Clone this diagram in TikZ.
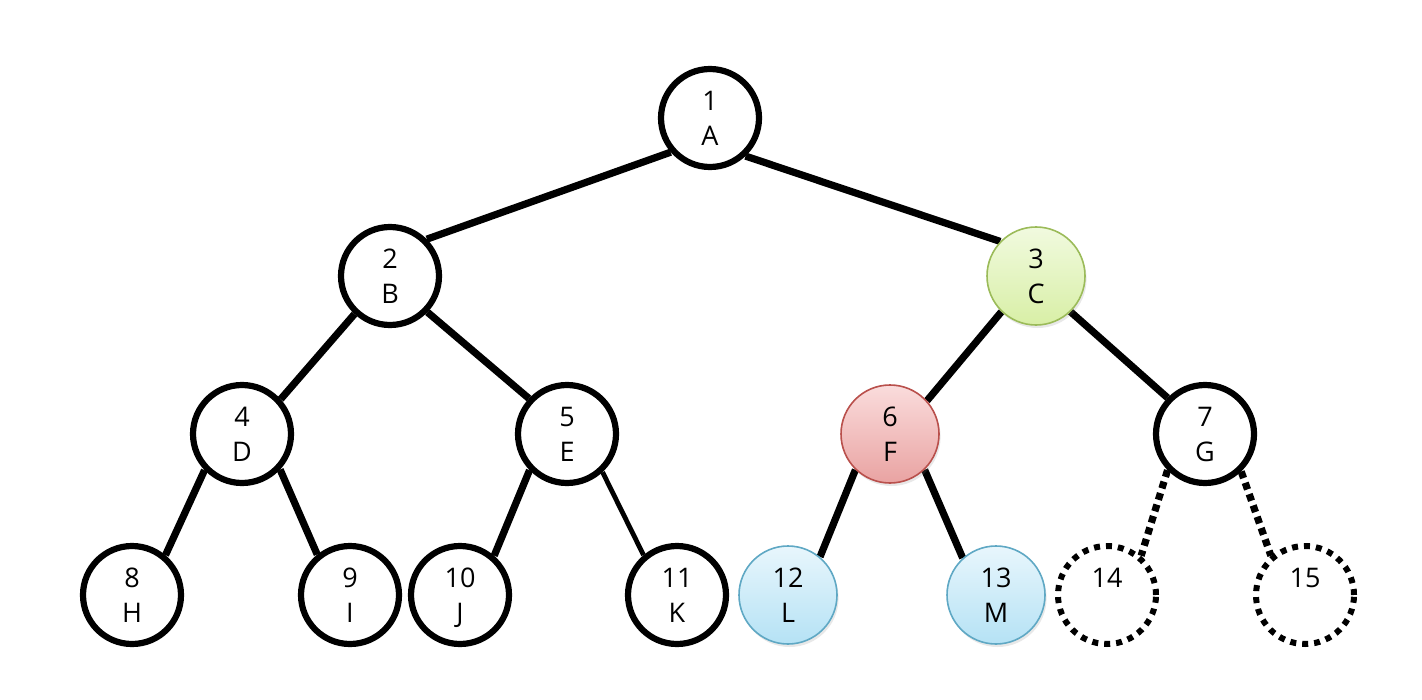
\documentclass[tikz,border=0pt]{standalone}
\usepackage{fontspec}
\setmainfont{Open Sans}
\usetikzlibrary{backgrounds,shadows}
\definecolor{greenfillT}{HTML}{F1FADF}
\definecolor{greenfillB}{HTML}{D8EFA6}
\definecolor{greenline}{HTML}{9BBB59}
\definecolor{redfillT}{HTML}{FADCDC}
\definecolor{redfillB}{HTML}{E9A3A2}
\definecolor{redline}{HTML}{B9504C}
\definecolor{bluefillT}{HTML}{E8F6FC}
\definecolor{bluefillB}{HTML}{B5E2F5}
\definecolor{blueline}{HTML}{5FA8C4}
\tikzset{
  tnode/.style={circle, minimum size=49pt, inner sep=0pt, line width=3.1pt, draw=black, fill=white,
    align=center, font=\fontsize{13.5}{17.5}\selectfont,
    drop shadow={opacity=0.18, shadow xshift=0.8pt, shadow yshift=-1.5pt}},
  greennode/.style={tnode, line width=0.8pt, draw=greenline, top color=greenfillT, bottom color=greenfillB},
  rednode/.style={tnode, line width=0.8pt, draw=redline, top color=redfillT, bottom color=redfillB},
  bluenode/.style={tnode, line width=0.8pt, draw=blueline, top color=bluefillT, bottom color=bluefillB},
  emptynode/.style={circle, minimum size=49pt, inner sep=0pt, line width=3pt, draw=black,
    dash pattern=on 3pt off 3pt, align=center, font=\fontsize{13.5}{17.5}\selectfont},
  edge/.style={line width=3.6pt, draw=black},
  thinedge/.style={line width=2.4pt, draw=black},
  dotedge/.style={line width=3.6pt, draw=black, dash pattern=on 3.5pt off 2.5pt},
}
\begin{document}
\begin{tikzpicture}[x=0.5pt, y=-0.5pt]
\useasboundingbox (0,0) rectangle (1422,700);
\node[tnode] (n1) at (710,118) {1\\A};
\node[tnode] (n2) at (390,276) {2\\B};
\node[greennode] (n3) at (1036,276) {3\\C};
\node[tnode] (n4) at (242,434) {4\\D};
\node[tnode] (n5) at (567,434) {5\\E};
\node[rednode] (n6) at (890,434) {6\\F};
\node[tnode] (n7) at (1205,434) {7\\G};
\node[tnode] (n8) at (132,595) {8\\H};
\node[tnode] (n9) at (350,595) {9\\I};
\node[tnode] (n10) at (460,595) {10\\\smash{J}};
\node[tnode] (n11) at (677,595) {11\\K};
\node[bluenode] (n12) at (788,595) {12\\L};
\node[bluenode] (n13) at (996,595) {13\\M};
\node[emptynode] (n14) at (1107,595) {14\\\phantom{M}};
\node[emptynode] (n15) at (1305,595) {15\\\phantom{M}};
\begin{scope}[on background layer]
\draw[edge] (n1.221) -- (n2.45);
\draw[edge] (n1.313) -- (n3.136);
\draw[edge] (n2.227) -- (n4.42);
\draw[edge] (n2.316) -- (n5.137);
\draw[edge] (n3.226) -- (n6.42);
\draw[edge] (n3.314) -- (n7.136);
\draw[edge] (n4.224) -- (n8.50);
\draw[edge] (n4.317) -- (n9.129);
\draw[edge] (n5.224) -- (n10.49);
\draw[thinedge] (n5.313) -- (n11.130);
\draw[edge] (n6.226) -- (n12.50);
\draw[edge] (n6.314) -- (n13.132);
\draw[dotedge] (n7.224) -- (n14.49);
\draw[dotedge] (n7.314) -- (n15.131);
\end{scope}
\end{tikzpicture}
\end{document}
